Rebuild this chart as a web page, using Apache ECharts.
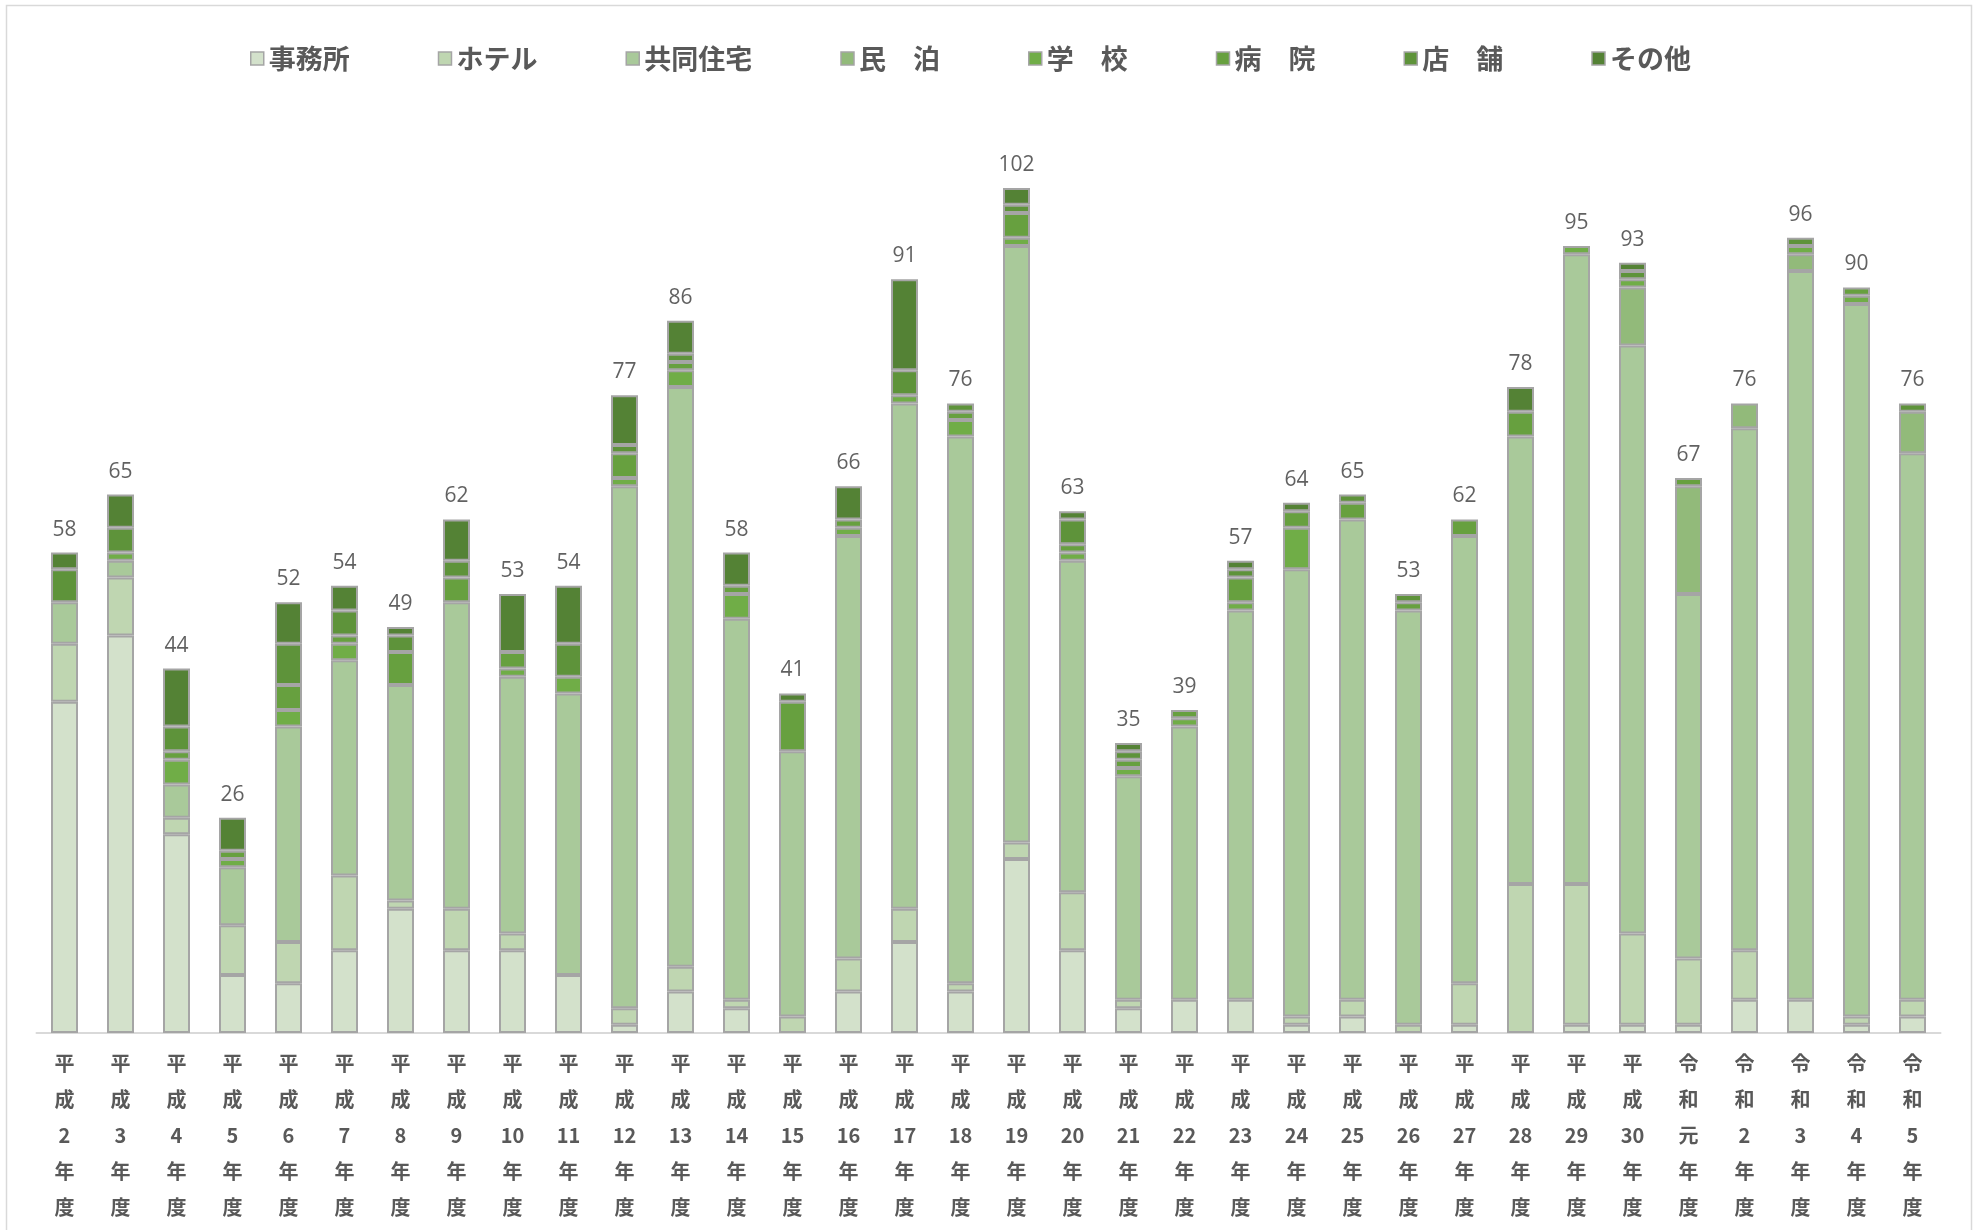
<!DOCTYPE html>
<html>
<head>
<meta charset="utf-8">
<script src="https://cdn.jsdelivr.net/npm/echarts@6/dist/echarts.min.js"></script>
<style>
html,body{margin:0;padding:0;background:#fff;}
#chart{width:1982px;height:1230px;}
</style>
</head>
<body>
<div id="chart"></div>
<script>
const categories = ['平成2年度','平成3年度','平成4年度','平成5年度','平成6年度','平成7年度','平成8年度','平成9年度','平成10年度','平成11年度',
  '平成12年度','平成13年度','平成14年度','平成15年度','平成16年度','平成17年度','平成18年度','平成19年度','平成20年度','平成21年度',
  '平成22年度','平成23年度','平成24年度','平成25年度','平成26年度','平成27年度','平成28年度','平成29年度','平成30年度','令和元年度',
  '令和2年度','令和3年度','令和4年度','令和5年度'];

const seriesNames = ['事務所','ホテル','共同住宅','民　泊','学　校','病　院','店　舗','その他'];

const office   = [40,48,24,7,6,10,15,10,10,7, 1,5,3,0,5,11,5,21,10,3, 4,4,1,2,0,1,0,1,1,1, 4,4,1,2];
const hotel    = [7,7,2,6,5,9,1,5,2,0, 2,3,1,2,4,4,1,2,7,1, 0,0,1,2,1,5,18,17,11,8, 6,0,1,2];
const housing  = [5,2,4,7,26,26,26,37,31,34, 63,70,46,32,51,61,66,72,40,27, 33,47,54,58,50,54,54,76,71,44, 63,88,86,66];
const minpaku  = [0,0,0,0,0,0,0,0,0,0, 0,0,0,0,0,0,0,0,0,0, 0,0,0,0,0,0,0,0,7,13, 3,2,0,5];
const school   = [0,1,3,1,2,2,0,0,1,2, 1,2,3,0,1,1,2,1,1,1, 1,1,5,0,0,0,0,1,1,0, 0,1,1,0];
const hospital = [0,0,1,1,3,1,4,3,2,0, 3,1,1,6,1,0,1,3,1,1, 1,3,2,2,1,2,3,0,0,1, 0,0,1,0];
const shop     = [4,3,3,0,5,3,2,2,0,4, 1,1,0,0,0,3,1,1,3,1, 0,1,0,1,1,0,0,0,1,0, 0,1,0,1];
const other    = [2,4,7,4,5,3,1,5,7,7, 6,4,4,1,4,11,0,2,1,1, 0,1,1,0,0,0,3,0,1,0, 0,0,0,0];

const colors = ['#d3e1cb','#bfd6b1','#a9c99a','#92ba7a','#70ad47','#67a03f','#5e933a','#548235'];

const seriesData = [office, hotel, housing, minpaku, school, hospital, shop, other];
const totals = categories.map((_, i) => seriesData.reduce((s, arr) => s + arr[i], 0));

const chart = echarts.init(document.getElementById('chart'), null, {renderer: 'canvas'});

const barSeries = seriesData.map((arr, k) => ({
  name: seriesNames[k],
  type: 'bar',
  stack: 'total',
  barWidth: 27,
  data: arr.map(v => v === 0 ? '-' : v),
  itemStyle: { color: colors[k], borderColor: '#a5a5a5', borderWidth: 2 },
  emphasis: { disabled: true }
}));

barSeries.push({
  name: 'total',
  type: 'scatter',
  data: totals,
  symbolSize: 1,
  itemStyle: { color: 'rgba(0,0,0,0)' },
  label: {
    show: true,
    position: 'top',
    distance: 12,
    color: '#3a3a3a',
    fontSize: 21,
    fontFamily: 'Open Sans',
    formatter: p => p.value
  },
  silent: true,
  z: 10
});

chart.setOption({
  animation: false,
  backgroundColor: '#fff',
  graphic: [{
    type: 'rect',
    shape: { x: 6.5, y: 5.5, width: 1965, height: 1240 },
    style: { fill: 'none', stroke: '#d9d9d9', lineWidth: 1.5 },
    silent: true
  }],
  legend: {
    data: seriesNames,
    left: 245,
    top: 40,
    itemWidth: 13,
    itemHeight: 13,
    itemGap: 88,
    icon: 'rect',
    itemStyle: { borderColor: '#a5a5a5', borderWidth: 1.5 },
    textStyle: {
      fontSize: 27,
      fontWeight: 'bold',
      color: '#595959',
      fontFamily: 'Noto Sans CJK JP'
    }
  },
  grid: {
    left: 36.5,
    right: 41.5,
    top: 39,
    bottom: 197,
    containLabel: false
  },
  xAxis: {
    type: 'category',
    data: categories,
    axisLine: { show: true, lineStyle: { color: '#d9d9d9', width: 2 } },
    axisTick: { show: false },
    axisLabel: {
      interval: 0,
      margin: 12,
      color: '#595959',
      fontSize: 20,
      fontWeight: 'bold',
      fontFamily: 'Noto Sans CJK JP',
      lineHeight: 36,
      formatter: v => v.match(/\d+|./g).join('\n')
    }
  },
  yAxis: {
    type: 'value',
    min: 0,
    max: 120,
    show: false,
    splitLine: { show: false }
  },
  series: barSeries
});
</script>
</body>
</html>
